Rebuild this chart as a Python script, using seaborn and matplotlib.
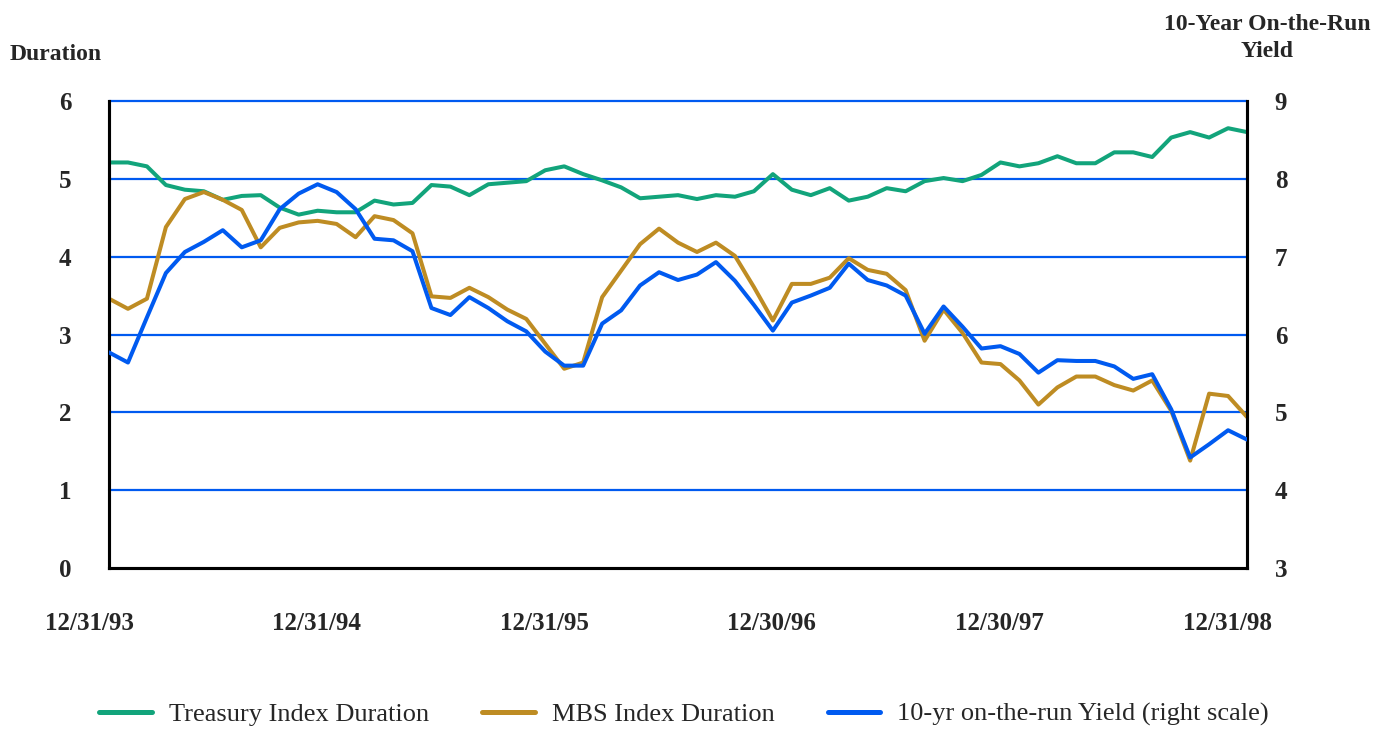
import matplotlib
matplotlib.use("Agg")
import matplotlib.pyplot as plt
import matplotlib.transforms as mtransforms
import seaborn as sns
import numpy as np

# ===============================
# Data (monthly, 12/31/93 - 12/31/98)
# ===============================
treasury_duration = [
    5.21, 5.21, 5.16, 4.92, 4.86, 4.84, 4.73, 4.78, 4.79, 4.63, 4.54, 4.59,
    4.57, 4.57, 4.72, 4.67, 4.69, 4.92, 4.90, 4.79, 4.93, 4.95, 4.97, 5.11,
    5.16, 5.06, 4.98, 4.89, 4.75, 4.77, 4.79, 4.74, 4.79, 4.77, 4.84, 5.06,
    4.86, 4.79, 4.88, 4.72, 4.77, 4.88, 4.84, 4.97, 5.01, 4.97, 5.05, 5.21,
    5.16, 5.20, 5.29, 5.20, 5.20, 5.34, 5.34, 5.28, 5.53, 5.60, 5.53, 5.65,
    5.60,
]
mbs_duration = [
    3.46, 3.33, 3.46, 4.38, 4.74, 4.83, 4.73, 4.60, 4.12, 4.37, 4.44, 4.46,
    4.42, 4.25, 4.52, 4.47, 4.30, 3.49, 3.47, 3.60, 3.48, 3.32, 3.20, 2.88,
    2.56, 2.64, 3.48, 3.82, 4.16, 4.36, 4.18, 4.06, 4.18, 4.01, 3.61, 3.18,
    3.65, 3.65, 3.73, 3.98, 3.83, 3.78, 3.57, 2.92, 3.32, 3.02, 2.64, 2.62,
    2.41, 2.10, 2.32, 2.46, 2.46, 2.35, 2.28, 2.41, 2.02, 1.38, 2.24, 2.21,
    1.94,
]
yield_10yr = [
    5.77, 5.64, 6.22, 6.79, 7.06, 7.19, 7.34, 7.12, 7.21, 7.61, 7.81, 7.93,
    7.83, 7.61, 7.23, 7.21, 7.07, 6.34, 6.25, 6.48, 6.34, 6.17, 6.04, 5.78,
    5.60, 5.60, 6.14, 6.31, 6.63, 6.80, 6.70, 6.77, 6.93, 6.69, 6.38, 6.05,
    6.41, 6.50, 6.60, 6.91, 6.70, 6.63, 6.50, 6.01, 6.36, 6.10, 5.82, 5.85,
    5.75, 5.51, 5.67, 5.66, 5.66, 5.59, 5.43, 5.49, 5.04, 4.42, 4.59, 4.77,
    4.65,
]
tick_labels = ["12/31/93", "12/31/94", "12/31/95", "12/30/96", "12/30/97", "12/31/98"]
months = np.arange(len(treasury_duration))

green = "#12A47B"
gold = "#BE8C23"
blue = "#005AF0"

# ===============================
# Plot
# ===============================
sns.set_style("white")
plt.rcParams["font.family"] = ["Liberation Serif", "DejaVu Serif"]

fig = plt.figure(figsize=(13.85, 7.29), dpi=100)
ax = fig.add_axes([0.0787, 0.2208, 0.8217, 0.6407])
ax2 = ax.twinx()

for y in range(1, 7):
    ax.axhline(y, color=blue, lw=1.6, zorder=1, clip_on=False)

sns.lineplot(x=months, y=treasury_duration, ax=ax, color=green, lw=2.9, zorder=3)
sns.lineplot(x=months, y=mbs_duration, ax=ax, color=gold, lw=2.9, zorder=3)
sns.lineplot(x=months, y=yield_10yr, ax=ax2, color=blue, lw=2.9, zorder=3)

ax.set_xlim(0, 60)
ax.set_ylim(0, 6)
ax2.set_ylim(3, 9)
ax.set_yticks(range(0, 7))
ax2.set_yticks(range(3, 10))
ax.set_xticks(range(0, 61, 12))
ax.set_xticklabels(tick_labels)
ax.set_xlabel("")
ax.set_ylabel("")
ax2.set_ylabel("")

for a in (ax, ax2):
    for side in ("left", "right", "bottom"):
        a.spines[side].set_color("black")
        a.spines[side].set_linewidth(2.2)
    a.spines["top"].set_visible(False)
    a.tick_params(length=0)

ax.tick_params(axis="y", pad=27, labelsize=18)
ax2.tick_params(axis="y", pad=20, labelsize=18)
ax.tick_params(axis="x", pad=32, labelsize=18)
for lab in ax.get_yticklabels() + ax2.get_yticklabels() + ax.get_xticklabels():
    lab.set_fontweight("bold")

shift = mtransforms.ScaledTranslation(-0.20, 0, fig.dpi_scale_trans)
for lab in ax.get_xticklabels():
    lab.set_transform(lab.get_transform() + shift)

fig.text(0.0072, 0.925, "Duration", fontsize=17, fontweight="bold", ha="left", va="center")
fig.text(0.9148, 0.948, "10-Year On-the-Run\nYield", fontsize=17, fontweight="bold",
         ha="center", va="center", multialignment="center", linespacing=1.4)

handles = [
    plt.Line2D([], [], color=green, lw=3.6),
    plt.Line2D([], [], color=gold, lw=3.6),
    plt.Line2D([], [], color=blue, lw=3.6),
]
labels = ["Treasury Index Duration", "MBS Index Duration", "10-yr on-the-run Yield (right scale)"]
fig.legend(handles, labels, loc="center", bbox_to_anchor=(0.494, 0.02), ncol=3,
           frameon=False, fontsize=19, handlelength=2.0, handletextpad=0.65,
           columnspacing=2.0)

plt.savefig("out.png", dpi=100)
